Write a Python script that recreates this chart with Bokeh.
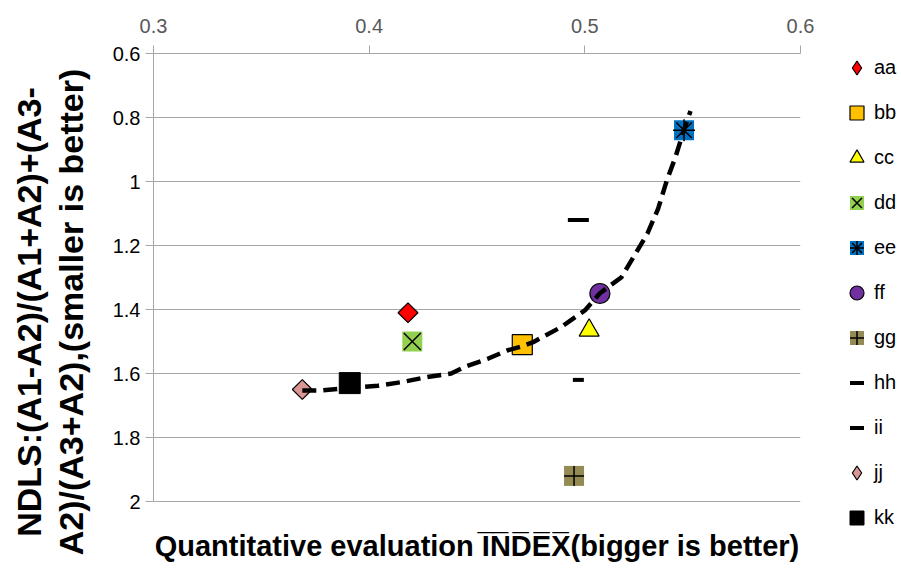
import math
from bokeh.plotting import figure
from bokeh.layouts import row
from bokeh.models import Range1d, FixedTicker, Legend, LegendItem, Label
from bokeh.embed import file_html
from bokeh.resources import INLINE

# ---------------- data ----------------
series_names = ["aa", "bb", "cc", "dd", "ee", "ff", "gg", "hh", "ii", "jj", "kk"]
series_x = [0.418, 0.471, 0.502, 0.420, 0.546, 0.507, 0.495, 0.497, 0.497, 0.369, 0.391]
series_y = [1.41, 1.51, 1.465, 1.50, 0.84, 1.35, 1.92, 1.62, 1.12, 1.65, 1.63]

trend_x = [0.369, 0.378, 0.391, 0.404, 0.415, 0.427, 0.438, 0.444, 0.455, 0.464, 0.471,
           0.476, 0.489, 0.500, 0.507, 0.517, 0.523, 0.529, 0.534, 0.538, 0.542, 0.546, 0.549]
trend_y = [1.653, 1.653, 1.645, 1.638, 1.627, 1.611, 1.600, 1.580, 1.554, 1.528, 1.515,
           1.502, 1.455, 1.403, 1.349, 1.299, 1.231, 1.163, 1.085, 0.997, 0.924, 0.838, 0.780]

x_ticks = [0.3, 0.4, 0.5, 0.6]
x_tick_labels = ["0.3", "0.4", "0.5", "0.6"]
y_ticks = [0.6, 0.8, 1.0, 1.2, 1.4, 1.6, 1.8, 2.0]
y_tick_labels = ["0.6", "0.8", "1", "1.2", "1.4", "1.6", "1.8", "2"]

OL = "\u0305"
x_title = "Quantitative evaluation " + "".join(c + OL for c in "INDEX") + "(bigger is better)"
y_title = "NDLS:(A1-A2)/(A1+A2)+(A3-\nA2)/(A3+A2),(smaller is better)"

# ---------------- styles ----------------
styles = {
    "aa": dict(layers=[("square", 14, "#FF0000", "black", 1.2, math.pi / 4)],
               legend=[("diamond", 14, "#FF0000", "black", 1.2, 0)]),
    "bb": dict(layers=[("square", 20, "#FFC000", "black", 1.2, 0)]),
    "cc": dict(layers=[("triangle", 20, "#FFFF00", "black", 1.2, 0)]),
    "dd": dict(layers=[("square", 20, "#92D050", None, 1, 0), ("x", 24, None, "black", 1.5, 0)]),
    "ee": dict(layers=[("square", 20, "#0070C0", None, 1, 0), ("asterisk", 22, None, "black", 1.5, 0)]),
    "ff": dict(layers=[("circle", 20, "#7030A0", "black", 1.2, 0)]),
    "gg": dict(layers=[("square", 20, "#948A54", None, 1, 0), ("cross", 20, None, "black", 1.5, 0)]),
    "hh": dict(layers=[("dash", 11, None, "black", 4, 0)]),
    "ii": dict(layers=[("dash", 21, None, "black", 4, 0)]),
    "jj": dict(layers=[("square", 14, "#D99694", "black", 1.2, math.pi / 4)],
               legend=[("diamond", 14, "#D99694", "black", 1.2, 0)]),
    "kk": dict(layers=[("square", 21, "black", "black", 1, 0)]),
}

FONT = "Liberation Sans"

# frame extends to the canvas bottom so the x title can live inside it
p = figure(width=820, height=570,
           x_range=Range1d(0.3, 0.6), y_range=Range1d(2.2156, 0.6),
           x_axis_location="above",
           output_backend="svg", toolbar_location=None,
           min_border_left=153, min_border_right=20, min_border_top=53, min_border_bottom=0)
p.outline_line_color = None
p.background_fill_color = "white"

# top x axis
xa = p.xaxis[0]
xa.ticker = FixedTicker(ticks=x_ticks)
xa.major_label_overrides = dict(zip(x_ticks, x_tick_labels))
xa.major_tick_out = 8
xa.major_tick_in = 0
xa.minor_tick_line_color = None
xa.axis_line_color = "#A6A6A6"
xa.major_tick_line_color = "#A6A6A6"
xa.major_label_text_font = FONT
xa.major_label_text_font_size = "20px"
xa.major_label_text_color = "#595959"
xa.major_label_standoff = 13

# left y axis
ya = p.yaxis[0]
ya.ticker = FixedTicker(ticks=y_ticks)
ya.major_label_overrides = dict(zip(y_ticks, y_tick_labels))
ya.bounds = (y_ticks[0], y_ticks[-1])
ya.major_tick_out = 8
ya.major_tick_in = 0
ya.minor_tick_line_color = None
ya.axis_line_color = "#A6A6A6"
ya.major_tick_line_color = "#A6A6A6"
ya.major_label_text_font = FONT
ya.major_label_text_font_size = "20px"
ya.major_label_text_color = "black"
ya.major_label_standoff = 5
ya.axis_label = y_title
ya.axis_label_text_font = FONT
ya.axis_label_text_font_size = "34px"
ya.axis_label_text_font_style = "bold"
ya.axis_label_text_color = "black"
ya.axis_label_text_line_height = 1.1
ya.axis_label_standoff = 20

p.xgrid.visible = False
p.ygrid.ticker = FixedTicker(ticks=y_ticks)
p.ygrid.grid_line_color = "#A6A6A6"
p.ygrid.grid_line_width = 1

# x title (below the 2.0 gridline, inside the frame area)
p.add_layout(Label(x=0.45, y=2.1375, text=x_title, text_align="center", text_baseline="middle",
                   text_font=FONT, text_font_size="29px", text_font_style="bold", text_color="black"))

# series
for i, name in enumerate(series_names):
    for (mk, sz, fc, lc, lw, ang) in styles[name]["layers"]:
        p.scatter(x=[series_x[i]], y=[series_y[i]], marker=mk, size=sz,
                  fill_color=fc, line_color=lc, line_width=lw, angle=ang)

# trend line
p.line(trend_x, trend_y, line_color="black", line_width=4.5, line_dash="14 7")

# legend panel (separate figure to the right)
lf = figure(width=81, height=570, x_axis_type=None, y_axis_type=None,
            x_range=Range1d(0, 1), y_range=Range1d(0, 1),
            output_backend="svg", toolbar_location=None, min_border=0)
lf.outline_line_color = None
lf.background_fill_color = "white"

legend_items = []
for i, name in enumerate(series_names):
    st = styles[name]
    rs = []
    for (mk, sz, fc, lc, lw, ang) in st.get("legend", st["layers"]):
        r = lf.scatter(x=[series_x[i]], y=[series_y[i]], marker=mk, size=sz,
                       fill_color=fc, line_color=lc, line_width=lw, visible=False)
        rs.append(r)
    legend_items.append(LegendItem(label=name, renderers=rs))

legend = Legend(items=legend_items, location=(19, 35), glyph_width=35, glyph_height=35,
                label_height=35, spacing=10, padding=0, margin=0, label_standoff=-3,
                label_text_font=FONT, label_text_font_size="20px", label_text_color="black",
                border_line_color=None, background_fill_alpha=0)
lf.add_layout(legend)

layout = row(p, lf)
open("out.html", "w").write(file_html(layout, INLINE))
